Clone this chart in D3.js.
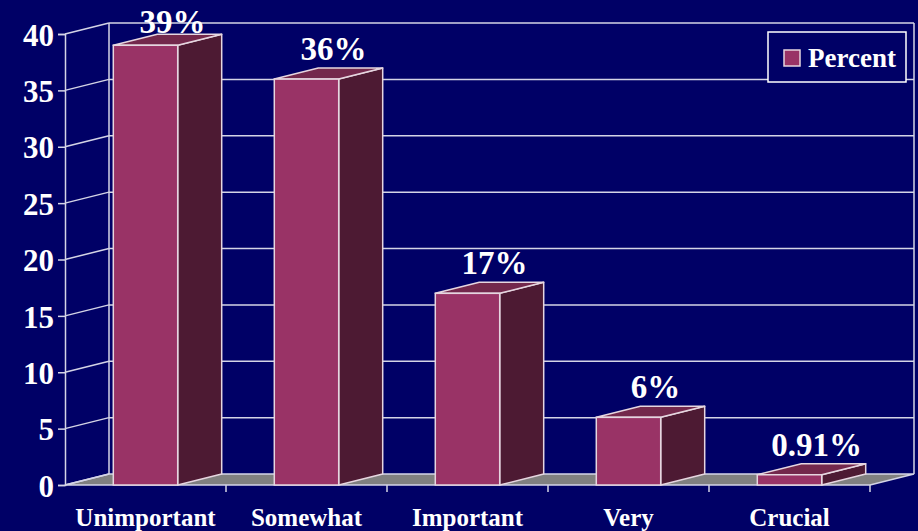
<!DOCTYPE html>
<html>
<head>
<meta charset="utf-8">
<script src="https://cdn.jsdelivr.net/npm/d3@7"></script>
<style>
  html, body { margin: 0; padding: 0; background: #000066; }
  svg { display: block; }
  text { font-family: "Liberation Serif", "Times New Roman", serif; font-weight: bold; fill: #ffffff; }
</style>
</head>
<body>
<div id="chart"></div>
<script>
// chart data
const categories = ['Unimportant', 'Somewhat', 'Important', 'Very', 'Crucial'];
const percentValues = [39, 36, 17, 6, 0.91];
const valueLabels = ['39%', '36%', '17%', '6%', '0.91%'];
const yTicks = [0, 5, 10, 15, 20, 25, 30, 35, 40];
const seriesName = 'Percent';

const width = 918;
const height = 531;

// depth offset of the 3D box
const depthX = 44;
const depthY = -11;

const colors = {
  background: '#000066',
  front: '#993366',
  side: '#4d1a33',
  top: '#73284c',
  floor: '#808080',
  grid: '#d4d4e6',
  edge: '#e6d6e0'
};

const svg = d3.select('#chart')
    .append('svg')
    .attr('width', width)
    .attr('height', height);

svg.append('rect')
    .attr('width', width)
    .attr('height', height)
    .attr('fill', colors.background);

const x = d3.scaleBand()
    .domain(categories)
    .range([65, 870])
    .paddingInner(0)
    .paddingOuter(0);

const y = d3.scaleLinear()
    .domain([0, 40])
    .range([485, 34]);

const barWidth = x.bandwidth() * 0.4;
const x0 = x.range()[0];
const x1 = x.range()[1];

/* Walls and grid */
const wallD3 = svg.append('g').attr('class', 'walls');

// floor
wallD3.append('path')
    .attr('d', `M${x0},${y(0)} L${x1},${y(0)} L${x1 + depthX},${y(0) + depthY} ` +
        `L${x0 + depthX},${y(0) + depthY} Z`)
    .attr('fill', colors.floor)
    .attr('stroke', colors.grid)
    .attr('stroke-width', 1.5);

// back wall grid lines
wallD3.selectAll('line.back-grid')
    .data(yTicks.filter(d => d > 0))
    .join('line')
    .attr('class', 'back-grid')
    .attr('x1', x0 + depthX)
    .attr('x2', x1 + depthX)
    .attr('y1', d => y(d) + depthY)
    .attr('y2', d => y(d) + depthY)
    .attr('stroke', colors.grid)
    .attr('stroke-width', 1.5);

// side wall diagonal grid lines
wallD3.selectAll('line.side-grid')
    .data(yTicks)
    .join('line')
    .attr('class', 'side-grid')
    .attr('x1', x0)
    .attr('x2', x0 + depthX)
    .attr('y1', d => y(d))
    .attr('y2', d => y(d) + depthY)
    .attr('stroke', colors.grid)
    .attr('stroke-width', 1.5);

// wall verticals
[x0 + depthX, x1 + depthX].forEach(xv => {
  wallD3.append('line')
      .attr('x1', xv)
      .attr('x2', xv)
      .attr('y1', y(40) + depthY)
      .attr('y2', y(0) + depthY)
      .attr('stroke', colors.grid)
      .attr('stroke-width', 1.5);
});

/* Bars */
const barsD3 = svg.append('g').attr('class', 'bars');

categories.forEach((cat, i) => {
  const v = percentValues[i];
  const bx = x(cat) + (x.bandwidth() - barWidth) / 2;
  const top = y(v);
  const bottom = y(0);
  const g = barsD3.append('g');

  // side face
  g.append('path')
      .attr('d', `M${bx + barWidth},${bottom} L${bx + barWidth + depthX},${bottom + depthY} ` +
          `L${bx + barWidth + depthX},${top + depthY} L${bx + barWidth},${top} Z`)
      .attr('fill', colors.side)
      .attr('stroke', colors.edge)
      .attr('stroke-width', 1.5)
      .attr('stroke-linejoin', 'round');

  // top face
  g.append('path')
      .attr('d', `M${bx},${top} L${bx + depthX},${top + depthY} ` +
          `L${bx + barWidth + depthX},${top + depthY} L${bx + barWidth},${top} Z`)
      .attr('fill', colors.top)
      .attr('stroke', colors.edge)
      .attr('stroke-width', 1.5)
      .attr('stroke-linejoin', 'round');

  // front face
  g.append('rect')
      .attr('x', bx)
      .attr('y', top)
      .attr('width', barWidth)
      .attr('height', bottom - top)
      .attr('fill', colors.front)
      .attr('stroke', colors.edge)
      .attr('stroke-width', 1.5);

  // value label
  svg.append('text')
      .attr('x', bx + barWidth / 2 + depthX / 2 + 5)
      .attr('y', Math.max(top + depthY - 8, 33))
      .attr('text-anchor', 'middle')
      .attr('font-size', 33)
      .text(valueLabels[i]);
});

/* Axes */
const yAxisD3 = svg.append('g')
    .attr('transform', `translate(${x0},0)`)
    .call(d3.axisLeft(y).tickValues(yTicks).tickSize(7).tickPadding(4));
yAxisD3.select('.domain').attr('stroke', colors.grid).attr('stroke-width', 1.5);
yAxisD3.selectAll('.tick line').attr('stroke', colors.grid).attr('stroke-width', 1.5);
yAxisD3.selectAll('.tick text')
    .attr('fill', '#ffffff')
    .attr('font-family', '"Liberation Serif", serif')
    .attr('font-weight', 'bold')
    .attr('font-size', 31)
    .attr('dy', '0.36em');

const xAxisD3 = svg.append('g')
    .attr('transform', `translate(0,${y(0)})`)
    .call(d3.axisBottom(x).tickSize(0).tickPadding(23));
xAxisD3.select('.domain').remove();
xAxisD3.selectAll('.tick text')
    .attr('fill', '#ffffff')
    .attr('font-family', '"Liberation Serif", serif')
    .attr('font-weight', 'bold')
    .attr('font-size', 25)
    .attr('dy', '0.71em');

// category boundary ticks
svg.append('g')
    .selectAll('line')
    .data(categories.map(c => x(c) + x.bandwidth()))
    .join('line')
    .attr('x1', d => d)
    .attr('x2', d => d)
    .attr('y1', y(0))
    .attr('y2', y(0) + 7)
    .attr('stroke', colors.grid)
    .attr('stroke-width', 1.5);

/* Legend */
const legendD3 = svg.append('g').attr('transform', 'translate(768,32)');
legendD3.append('rect')
    .attr('width', 138)
    .attr('height', 50)
    .attr('fill', colors.background)
    .attr('stroke', '#ffffff')
    .attr('stroke-width', 1.5);
legendD3.append('rect')
    .attr('x', 16)
    .attr('y', 18)
    .attr('width', 16)
    .attr('height', 16)
    .attr('fill', colors.front)
    .attr('stroke', colors.edge)
    .attr('stroke-width', 1.5);
legendD3.append('text')
    .attr('x', 40)
    .attr('y', 35)
    .attr('font-size', 27)
    .text(seriesName);
</script>
</body>
</html>
